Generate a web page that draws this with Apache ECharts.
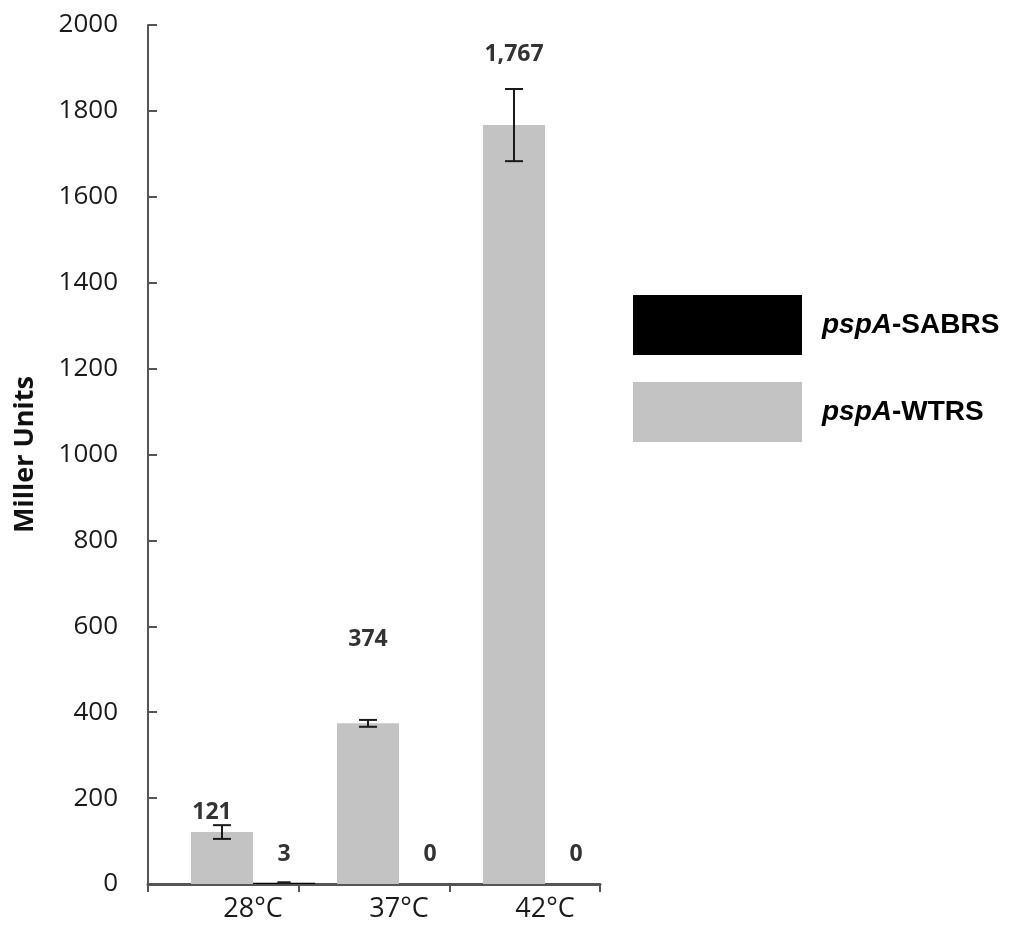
<!DOCTYPE html>
<html>
<head>
<meta charset="utf-8">
<script src="https://cdn.jsdelivr.net/npm/echarts@6/dist/echarts.min.js"></script>
<style>
html,body{margin:0;padding:0;background:#fff;}
#chart{width:1010px;height:926px;}
</style>
</head>
<body>
<div id="chart"></div>
<script>
const categories = ['28°C', '37°C', '42°C'];
const wtrsValues = [121, 374, 1767];
const wtrsErrors = [16, 8, 84];
const sabrsValues = [3, 0, 0];
const sabrsErrors = [1, 0, 0];
const seriesNames = ['pspA-SABRS', 'pspA-WTRS'];

// styling constants
const BAR_W = 62;
const wtrsLabelDist = [8, 72, 59];
const wtrsLabelDx = [-10, 0, 0];
const sabrsLabelDist = [17, 18, 18];

const chart = echarts.init(document.getElementById('chart'));

function errData(vals, errs) {
  return vals.map((v, i) => [i, v, errs[i]]);
}
function errRender(offset, capW) {
  return function (params, api) {
    const idx = api.value(0), val = api.value(1), err = api.value(2);
    if (!err) return null;
    const c = api.coord([idx, val]);
    const t = api.coord([idx, val + err]);
    const b = api.coord([idx, Math.max(0, val - err)]);
    const x = c[0] + offset;
    const st = { stroke: '#1a1a1a', lineWidth: 2 };
    return {
      type: 'group',
      children: [
        { type: 'line', shape: { x1: x, y1: t[1], x2: x, y2: b[1] }, style: st },
        { type: 'line', shape: { x1: x - capW / 2, y1: t[1], x2: x + capW / 2, y2: t[1] }, style: st },
        { type: 'line', shape: { x1: x - capW / 2, y1: b[1], x2: x + capW / 2, y2: b[1] }, style: st }
      ]
    };
  };
}
const fmt = p => Number(p.value).toLocaleString('en-US');
const valLabel = {
  show: true, position: 'top', formatter: fmt,
  fontFamily: 'Open Sans', fontWeight: 'bold', fontSize: 23, color: '#333'
};

const option = {
  backgroundColor: '#fff',
  animation: false,
  legend: {
    orient: 'vertical', left: 628, top: 290,
    itemWidth: 169, itemHeight: 60, itemGap: 27,
    icon: 'rect',
    data: seriesNames,
    formatter: n => {
      const parts = n.split('-');
      return '{i|' + parts[0] + '}{b|-' + parts[1] + '}';
    },
    textStyle: {
      padding: [0, 0, 0, 15],
      rich: {
        i: { fontFamily: 'Liberation Sans', fontStyle: 'italic', fontWeight: 'bold', fontSize: 28, color: '#000' },
        b: { fontFamily: 'Liberation Sans', fontWeight: 'bold', fontSize: 28, color: '#000' }
      }
    }
  },
  grid: [
    { left: 148, top: 25, width: 452, height: 859 },
    { left: 180, top: 25, width: 438, height: 859 }
  ],
  xAxis: [
    {
      type: 'category', gridIndex: 0, data: categories,
      axisLine: { lineStyle: { color: '#555', width: 3 } },
      axisTick: { show: true, length: 8, lineStyle: { color: '#555', width: 2 } },
      axisLabel: { show: false }
    },
    {
      type: 'category', gridIndex: 1, data: categories,
      axisLine: { show: false }, axisTick: { show: false },
      axisLabel: { fontFamily: 'Open Sans', fontSize: 27, color: '#1a1a1a', margin: 12 }
    }
  ],
  yAxis: [
    {
      type: 'value', gridIndex: 0, min: 0, max: 2000, interval: 200,
      axisLine: { show: true, lineStyle: { color: '#555', width: 2 } },
      axisTick: { show: true, inside: true, length: 9, lineStyle: { color: '#555', width: 2 } },
      splitLine: { show: false },
      axisLabel: { fontFamily: 'Open Sans', fontSize: 26, color: '#1a1a1a', margin: 30, formatter: v => String(v) },
      name: 'Miller Units', nameLocation: 'middle', nameGap: 109,
      nameTextStyle: { fontFamily: 'Open Sans', fontWeight: 'bold', fontSize: 27, color: '#111' }
    },
    { type: 'value', gridIndex: 1, min: 0, max: 2000, show: false }
  ],
  series: [
    {
      name: 'pspA-WTRS', type: 'bar', xAxisIndex: 1, yAxisIndex: 1,
      barWidth: BAR_W, barGap: '0%',
      itemStyle: { color: '#c3c3c3' },
      data: wtrsValues.map((v, i) => ({
        value: v,
        label: Object.assign({}, valLabel, { distance: wtrsLabelDist[i], offset: [wtrsLabelDx[i], 0] })
      }))
    },
    {
      name: 'pspA-SABRS', type: 'bar', xAxisIndex: 1, yAxisIndex: 1,
      barWidth: BAR_W, barGap: '0%',
      itemStyle: { color: '#000' },
      data: sabrsValues.map((v, i) => ({
        value: v,
        label: Object.assign({}, valLabel, { distance: sabrsLabelDist[i] })
      }))
    },
    {
      type: 'custom', xAxisIndex: 1, yAxisIndex: 1, z: 5,
      renderItem: errRender(-BAR_W / 2, 18),
      data: errData(wtrsValues, wtrsErrors)
    },
    {
      type: 'custom', xAxisIndex: 1, yAxisIndex: 1, z: 5,
      renderItem: errRender(BAR_W / 2, 13),
      data: errData(sabrsValues, sabrsErrors)
    }
  ]
};
chart.setOption(option);
</script>
</body>
</html>
